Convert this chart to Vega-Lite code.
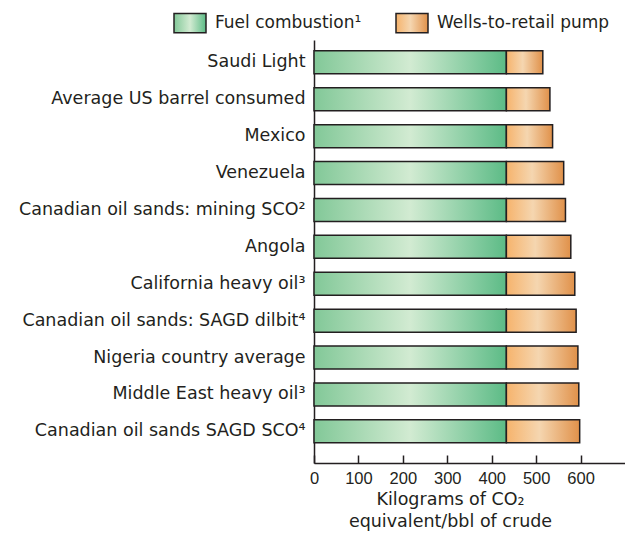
{
  "$schema": "https://vega.github.io/schema/vega-lite/v6.json",
  "width": 311,
  "height": 423,
  "autosize": {"type": "none"},
  "padding": {"left": 314, "top": 40, "right": 0, "bottom": 70},
  "background": "white",
  "config": {"view": {"stroke": null}},
  "data": {
    "values": [
      {"source": "Saudi Light", "component": "Fuel combustion¹", "value": 433},
      {"source": "Saudi Light", "component": "Wells-to-retail pump", "value": 82},
      {"source": "Average US barrel consumed", "component": "Fuel combustion¹", "value": 433},
      {"source": "Average US barrel consumed", "component": "Wells-to-retail pump", "value": 98},
      {"source": "Mexico", "component": "Fuel combustion¹", "value": 433},
      {"source": "Mexico", "component": "Wells-to-retail pump", "value": 104},
      {"source": "Venezuela", "component": "Fuel combustion¹", "value": 433},
      {"source": "Venezuela", "component": "Wells-to-retail pump", "value": 129},
      {"source": "Canadian oil sands: mining SCO²", "component": "Fuel combustion¹", "value": 433},
      {"source": "Canadian oil sands: mining SCO²", "component": "Wells-to-retail pump", "value": 133},
      {"source": "Angola", "component": "Fuel combustion¹", "value": 433},
      {"source": "Angola", "component": "Wells-to-retail pump", "value": 145},
      {"source": "California heavy oil³", "component": "Fuel combustion¹", "value": 433},
      {"source": "California heavy oil³", "component": "Wells-to-retail pump", "value": 154},
      {"source": "Canadian oil sands: SAGD dilbit⁴", "component": "Fuel combustion¹", "value": 433},
      {"source": "Canadian oil sands: SAGD dilbit⁴", "component": "Wells-to-retail pump", "value": 157},
      {"source": "Nigeria country average", "component": "Fuel combustion¹", "value": 433},
      {"source": "Nigeria country average", "component": "Wells-to-retail pump", "value": 161},
      {"source": "Middle East heavy oil³", "component": "Fuel combustion¹", "value": 433},
      {"source": "Middle East heavy oil³", "component": "Wells-to-retail pump", "value": 163},
      {"source": "Canadian oil sands SAGD SCO⁴", "component": "Fuel combustion¹", "value": 433},
      {"source": "Canadian oil sands SAGD SCO⁴", "component": "Wells-to-retail pump", "value": 165}
    ]
  },
  "transform": [
    {"stack": "value", "groupby": ["source"], "sort": [{"field": "component", "order": "ascending"}], "as": ["x0", "x1"]}
  ],
  "mark": {
    "type": "bar",
    "strokeWidth": 1.5,
    "fill": {"expr": "(datum.component || datum.value) === 'Fuel combustion¹' ? {gradient: 'linear', x1: 0, y1: 0, x2: 1, y2: 0, stops: [{offset: 0, color: '#82c898'}, {offset: 0.5, color: '#d2ebd2'}, {offset: 1, color: '#5cbb86'}]} : {gradient: 'linear', x1: 0, y1: 0, x2: 1, y2: 0, stops: [{offset: 0, color: '#f6b36c'}, {offset: 0.45, color: '#f5d6b0'}, {offset: 1, color: '#e0914a'}]}"}
  },
  "encoding": {
    "y": {
      "field": "source",
      "type": "nominal",
      "sort": null,
      "scale": {"paddingInner": 0.376, "paddingOuter": 0.42, "align": 0.35},
      "axis": {
        "title": null,
        "ticks": false,
        "labelFont": "DejaVu Sans",
        "labelFontSize": 17.5,
        "labelColor": "#231f20",
        "labelPadding": 9,
        "labelLimit": 400,
        "domainColor": "#231f20",
        "domainWidth": 1.5
      }
    },
    "x": {
      "field": "x0",
      "type": "quantitative",
      "scale": {"domain": [0, 700], "nice": false},
      "axis": {
        "values": [0, 100, 200, 300, 400, 500, 600],
        "grid": false,
        "tickSize": -8,
        "tickColor": "#231f20",
        "tickWidth": 1.5,
        "domainColor": "#231f20",
        "domainWidth": 1.5,
        "labelFlush": false,
        "labelFont": "Liberation Sans",
        "labelFontSize": 16.5,
        "labelColor": "#231f20",
        "labelPadding": 15,
        "title": ["Kilograms of CO₂", "equivalent/bbl of crude"],
        "titleFont": "DejaVu Sans",
        "titleFontSize": 17.5,
        "titleFontWeight": "normal",
        "titleColor": "#231f20",
        "titleLineHeight": 22,
        "titleX": 136,
        "titleY": 27,
        "titleAlign": "center",
        "titleBaseline": "top"
      }
    },
    "x2": {"field": "x1"},
    "stroke": {
      "field": "component",
      "type": "nominal",
      "scale": {"domain": ["Fuel combustion¹", "Wells-to-retail pump"], "range": ["#231f20", "#231f20"]},
      "legend": {
        "orient": "none",
        "legendX": -141,
        "legendY": -34,
        "direction": "horizontal",
        "title": null,
        "symbolType": "M-1,-0.6H1V0.6H-1Z",
        "symbolSize": 1024,
        "symbolStrokeWidth": 1.5,
        "symbolOpacity": 1,
        "labelFont": "DejaVu Sans",
        "labelFontSize": 17,
        "labelColor": "#231f20",
        "labelOffset": 8,
        "labelLimit": 300,
        "columnPadding": 31
      }
    }
  }
}
